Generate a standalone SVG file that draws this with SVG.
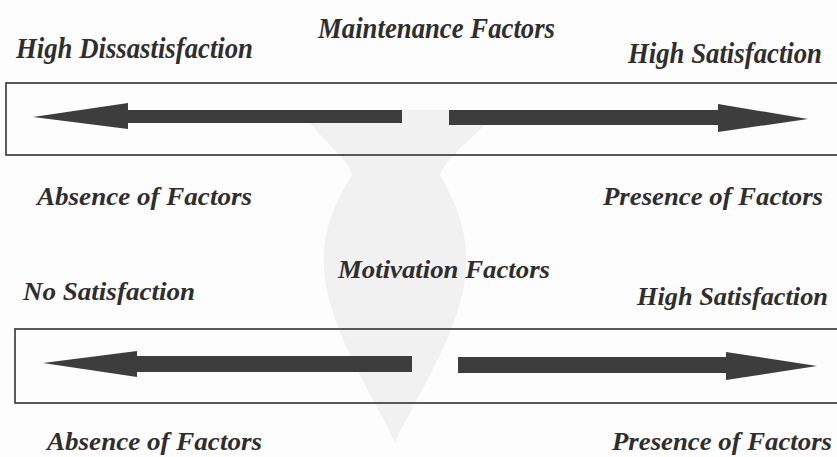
<svg xmlns="http://www.w3.org/2000/svg" width="837" height="457" viewBox="0 0 837 457">
<style>
.lbl{font-family:"Liberation Serif","Times New Roman",serif;font-weight:bold;font-style:italic;fill:#2e2e2e;font-size:26px}
.cond{font-size:29px}
.box{fill:none;stroke:#333;stroke-width:1.6}
.arrow{fill:#3d3d3d}
.wm{fill:#f1f1f1}
</style>
<rect width="837" height="457" fill="#fdfdfd"/>
<g id="watermark">
<path class="wm" d="M300 110 C330 150 350 160 352 175 C330 210 320 240 325 280 C335 340 370 390 395 442 C420 390 455 340 465 280 C470 240 460 210 440 175 C445 160 470 140 500 110 Z"/>
</g>
<g id="maintenance">
<rect class="box" x="6" y="83" width="840" height="72"/>
<text class="lbl cond" x="318" y="38" textLength="237" lengthAdjust="spacingAndGlyphs">Maintenance Factors</text>
<text class="lbl cond" x="16" y="58" textLength="237" lengthAdjust="spacingAndGlyphs">High Dissastisfaction</text>
<text class="lbl cond" x="628" y="63" textLength="194" lengthAdjust="spacingAndGlyphs">High Satisfaction</text>
<text class="lbl" x="37" y="205" textLength="215" lengthAdjust="spacingAndGlyphs">Absence of Factors</text>
<text class="lbl" x="603" y="205" textLength="220" lengthAdjust="spacingAndGlyphs">Presence of Factors</text>
</g>
<g id="motivation">
<rect class="box" x="15" y="329" width="830" height="74"/>
<text class="lbl" x="338" y="278" textLength="212" lengthAdjust="spacingAndGlyphs">Motivation Factors</text>
<text class="lbl" x="23" y="300" textLength="172" lengthAdjust="spacingAndGlyphs">No Satisfaction</text>
<text class="lbl" x="637" y="305" textLength="191" lengthAdjust="spacingAndGlyphs">High Satisfaction</text>
<text class="lbl" x="47" y="450" textLength="215" lengthAdjust="spacingAndGlyphs">Absence of Factors</text>
<text class="lbl" x="612" y="450" textLength="220" lengthAdjust="spacingAndGlyphs">Presence of Factors</text>
</g>
<g id="connectors">
<polygon class="arrow" points="402,110 128,110 128,103 33,117 128,129 128,123 402,123"/>
<polygon class="arrow" points="449,110 718,110 718,104 808,119 718,132 718,125 449,125"/>
<polygon class="arrow" points="412,356 137,356 137,351 43,363 137,377 137,372 412,372"/>
<polygon class="arrow" points="458,357 726,357 726,352 817,366 726,380 726,373 458,373"/>
</g>
</svg>
